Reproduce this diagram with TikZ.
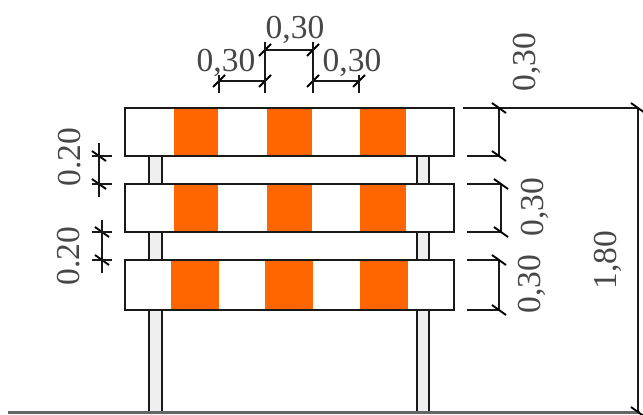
\documentclass[tikz,border=0pt]{standalone}
\usepackage{fontspec}
\usetikzlibrary{calc}
\setmainfont{Liberation Serif}
\definecolor{naranja}{HTML}{FF6600}
\definecolor{poste}{HTML}{EFEFEF}
\newcommand{\marcav}[1]{\draw[marca] (#1) ++(-7,-5) -- ++(14,10);}
\newcommand{\marcah}[1]{\draw[marca] (#1) ++(-6,6) -- ++(12,-12);}
\tikzset{
	linea/.style={line width=1.4pt,black!90},
	marca/.style={line width=1.9pt,black},
	cota/.style={font=\fontsize{33.5}{36}\selectfont,text=black!72,inner sep=0pt,text height=22pt,text depth=0pt},
}

\begin{document}
\begin{tikzpicture}[x=1pt,y=-1pt,linea]
	\useasboundingbox (0,0) rectangle (643,415);
	% postes
	\foreach \a/\b in {149/162,417/429}
	{
		\draw[fill=poste] (\a,156) rectangle (\b,412);
	}
	% barras
	\foreach \ya/\yb/\xa/\xb/\xc/\xd/\xe/\xf in {108/156/174/218/267/312/360/406,184/232/174/218/267/312/360/406,260/310/171/219/265/313/360/408}
	{
		\fill[white] (125,\ya) rectangle (454,\yb);
		\fill[naranja] (\xa,\ya) rectangle (\xb,\yb);
		\fill[naranja] (\xc,\ya) rectangle (\xd,\yb);
		\fill[naranja] (\xe,\ya) rectangle (\xf,\yb);
		\draw (125,\ya) rectangle (454,\yb);
	}
	% suelo
	\draw[line width=3pt,black!60] (8,412.5) -- (640,412.5);
	% cotas arriba
	\coordinate (s1) at (219,81);
	\coordinate (s2) at (265,81);
	\coordinate (s3) at (265,50);
	\coordinate (s4) at (313,50);
	\coordinate (s5) at (313,81);
	\coordinate (s6) at (359,81);
	\draw (s1) -- (s2) -- (s3) -- (s4) -- (s5) -- (s6);
	\foreach \p in {s1,s2,s3,s4,s5,s6}
	{
		\marcah{\p}
	}
	\foreach \p in {s1,s2,s5,s6}
	{
		\draw (\p) ++(0,-6) -- ++(0,18);
	}
	\draw (s3) ++(0,-8) -- ++(0,8);
	\draw (s4) ++(0,-8) -- ++(0,8);
	\node[cota] (c1) at (295,27) {0,30};
	\node[cota] (c2) at (226,60) {0,30};
	\node[cota] (c3) at (352,60) {0,30};
	% cotas izquierda
	\coordinate (i0) at (92,0);
	\coordinate (i1) at (99,156);
	\coordinate (i2) at (99,184);
	\coordinate (i3) at (102,232);
	\coordinate (i4) at (102,260);
	\draw ($(i1)+(0,-13)$) -- ($(i2)+(0,13)$);
	\draw ($(i3)+(0,-12)$) -- ($(i4)+(0,13)$);
	\foreach \p in {i1,i2,i3,i4}
	{
		\marcav{\p}
		\draw (i0 |- \p) -- ++(20,0);
	}
	\node[cota,rotate=90] (c4) at (69,157) {0.20};
	\node[cota,rotate=90] (c5) at (68,256) {0.20};
	% cotas derecha
	\coordinate (d0) at (467,0);
	\coordinate (d1) at (499,108);
	\coordinate (d2) at (499,156);
	\coordinate (d3) at (501,184);
	\coordinate (d4) at (501,232);
	\coordinate (d5) at (499,260);
	\coordinate (d6) at (499,310);
	\coordinate (t1) at (638,108);
	\coordinate (t2) at (638,412);
	\draw (d1) -- (d2);
	\draw (d3) -- (d4);
	\draw (d5) -- (d6);
	\draw (463,108) -- (t1) -- (t2);
	\foreach \p in {d2,d3,d4,d5,d6}
	{
		\draw (d0 |- \p) -- (\p);
	}
	\foreach \p in {d1,d2,d3,d4,d5,d6,t1,t2}
	{
		\marcav{\p}
	}
	\node[cota,rotate=90] (c6) at (524,62) {0,30};
	\node[cota,rotate=90] (c7) at (532,207) {0,30};
	\node[cota,rotate=90] (c8) at (529,284) {0,30};
	\node[cota,rotate=90] (c9) at (605,260) {1,80};
\end{tikzpicture}
\end{document}
